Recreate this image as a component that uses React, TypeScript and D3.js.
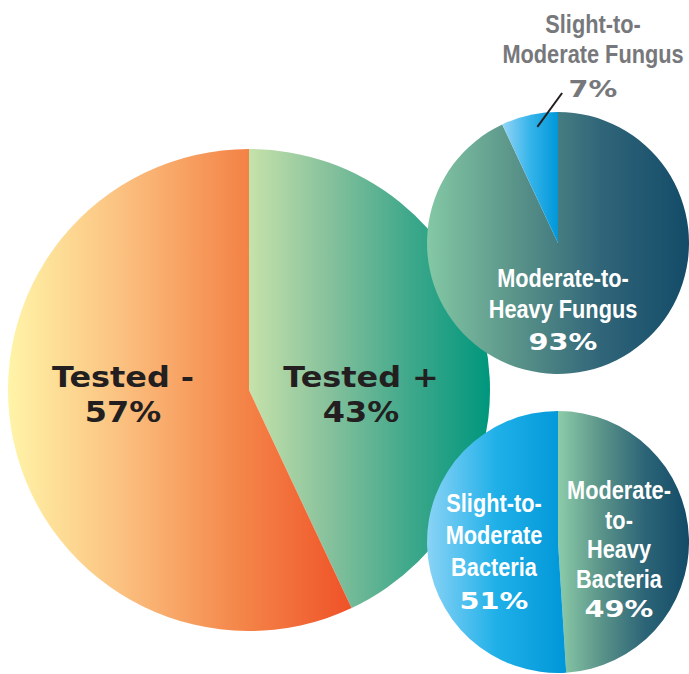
import React from 'react';
import * as d3 from 'd3';

// Data
const testLabels = ['Tested +', 'Tested -'];
const testValues = [43, 57];

const fungusLabels = ['Moderate-to-Heavy Fungus', 'Slight-to-Moderate Fungus'];
const fungusValues = [93, 7];

const bacteriaLabels = ['Moderate-to-Heavy Bacteria', 'Slight-to-Moderate Bacteria'];
const bacteriaValues = [49, 51];

// gradient stops per slice (left -> right)
const gradients: Record<string, string[]> = {
  'Tested +': ['#c6e2aa', '#86c19c', '#3fa88b', '#00977d'],
  'Tested -': ['#fff4a8', '#fbc07f', '#f4874a', '#ef5228'],
  'Moderate-to-Heavy Fungus': ['#84c8a5', '#5a9489', '#306579', '#134b68'],
  'Slight-to-Moderate Fungus': ['#93d5f6', '#35b4ea', '#0097d9'],
  'Moderate-to-Heavy Bacteria': ['#8ccca9', '#5a9389', '#2c6477', '#134b68'],
  'Slight-to-Moderate Bacteria': ['#8ad3f6', '#1fb0e8', '#0096d8'],
};
const gradIds = Object.keys(gradients);
const gid = (label: string) => `grad-${gradIds.indexOf(label)}`;

const W = 689;
const H = 674;

const WIDE = '"DejaVu Sans", sans-serif';
const NARROW = '"Liberation Sans", Arial, sans-serif';
const NX = 0.87; // horizontal squeeze for the condensed labels
const PX = 1.25; // horizontal stretch for the small percent labels

interface PieProps {
  labels: string[];
  values: number[];
  cx: number;
  cy: number;
  r: number;
}

const pie = d3.pie<number>().sort(null).value(d => d);

const PieSlices: React.FC<PieProps> = ({ labels, values, cx, cy, r }) => {
  const arcs = pie(values);
  const arc = d3.arc<d3.PieArcDatum<number>>().innerRadius(0).outerRadius(r);
  return (
    <g transform={`translate(${cx},${cy})`}>
      {arcs.map((a, i) => (
        <path key={labels[i]} d={arc(a) || ''} fill={`url(#${gid(labels[i])})`} />
      ))}
    </g>
  );
};

const Txt: React.FC<{ x: number; y: number; sx: number; size: number; fill: string; font: string; children: React.ReactNode }> =
  ({ x, y, sx, size, fill, font, children }) => (
    <text
      transform={`translate(${x},${y}) scale(${sx},1)`}
      textAnchor="middle"
      fontFamily={font}
      fontWeight="bold"
      fontSize={size}
      fill={fill}
    >
      {children}
    </text>
  );

const App: React.FC = () => {
  const main = { cx: 249, cy: 390, r: 241 };
  const fungus = { cx: 558, cy: 243, r: 131 };
  const bact = { cx: 558, cy: 542, r: 131 };

  // leader line for the small fungus slice
  const small = pie(fungusValues)[1];
  const anchorAngle = small.startAngle + 0.6 * (small.endAngle - small.startAngle);
  const ax = fungus.cx + Math.sin(anchorAngle) * fungus.r * 0.9;
  const ay = fungus.cy - Math.cos(anchorAngle) * fungus.r * 0.9;
  const dir = 0.63;
  const len = 42;

  const pct = (v: number) => `${v}%`;
  const dark = '#231f20';
  const grey = '#77787b';
  const white = '#ffffff';

  return (
    <svg width={W} height={H} style={{ position: 'absolute', left: 0, top: 0 }}>
      <defs>
        {gradIds.map(k => (
          <linearGradient key={k} id={gid(k)} x1="0" x2="1" y1="0" y2="0">
            {gradients[k].map((c, i, arr) => (
              <stop key={i} offset={`${(i / (arr.length - 1)) * 100}%`} stopColor={c} />
            ))}
          </linearGradient>
        ))}
      </defs>

      <PieSlices labels={testLabels} values={testValues} {...main} />
      <PieSlices labels={fungusLabels} values={fungusValues} {...fungus} />
      <PieSlices labels={bacteriaLabels} values={bacteriaValues} {...bact} />

      {/* main pie labels */}
      <Txt x={main.cx + 112} y={main.cy - 3} sx={1.1} size={29} fill={dark} font={WIDE}>{testLabels[0]}</Txt>
      <Txt x={main.cx + 112} y={main.cy + 32} sx={1.1} size={29} fill={dark} font={WIDE}>{pct(testValues[0])}</Txt>
      <Txt x={main.cx - 126} y={main.cy - 3} sx={1.1} size={29} fill={dark} font={WIDE}>{testLabels[1]}</Txt>
      <Txt x={main.cx - 126} y={main.cy + 32} sx={1.1} size={29} fill={dark} font={WIDE}>{pct(testValues[1])}</Txt>

      {/* fungus pie */}
      <Txt x={fungus.cx + 5} y={fungus.cy + 44} sx={NX} size={25} fill={white} font={NARROW}>Moderate-to-</Txt>
      <Txt x={fungus.cx + 5} y={fungus.cy + 75} sx={NX} size={25} fill={white} font={NARROW}>Heavy Fungus</Txt>
      <Txt x={fungus.cx + 5} y={fungus.cy + 107} sx={PX} size={23} fill={white} font={WIDE}>{pct(fungusValues[0])}</Txt>

      <Txt x={593} y={33} sx={NX} size={25} fill={grey} font={NARROW}>Slight-to-</Txt>
      <Txt x={593} y={63} sx={NX} size={25} fill={grey} font={NARROW}>Moderate Fungus</Txt>
      <Txt x={593} y={97} sx={PX} size={23} fill={grey} font={WIDE}>{pct(fungusValues[1])}</Txt>
      <line
        x1={ax}
        y1={ay}
        x2={ax + Math.sin(dir) * len}
        y2={ay - Math.cos(dir) * len}
        stroke={dark}
        strokeWidth={2}
      />

      {/* bacteria pie */}
      <Txt x={bact.cx + 61} y={bact.cy - 43} sx={NX} size={25} fill={white} font={NARROW}>Moderate-</Txt>
      <Txt x={bact.cx + 61} y={bact.cy - 13} sx={NX} size={25} fill={white} font={NARROW}>to-</Txt>
      <Txt x={bact.cx + 61} y={bact.cy + 16} sx={NX} size={25} fill={white} font={NARROW}>Heavy</Txt>
      <Txt x={bact.cx + 61} y={bact.cy + 46} sx={NX} size={25} fill={white} font={NARROW}>Bacteria</Txt>
      <Txt x={bact.cx + 61} y={bact.cy + 75} sx={PX} size={23} fill={white} font={WIDE}>{pct(bacteriaValues[0])}</Txt>

      <Txt x={bact.cx - 64} y={bact.cy - 30} sx={NX} size={25} fill={white} font={NARROW}>Slight-to-</Txt>
      <Txt x={bact.cx - 64} y={bact.cy + 2} sx={NX} size={25} fill={white} font={NARROW}>Moderate</Txt>
      <Txt x={bact.cx - 64} y={bact.cy + 34} sx={NX} size={25} fill={white} font={NARROW}>Bacteria</Txt>
      <Txt x={bact.cx - 64} y={bact.cy + 67} sx={PX} size={23} fill={white} font={WIDE}>{pct(bacteriaValues[1])}</Txt>
    </svg>
  );
};

export default App;
